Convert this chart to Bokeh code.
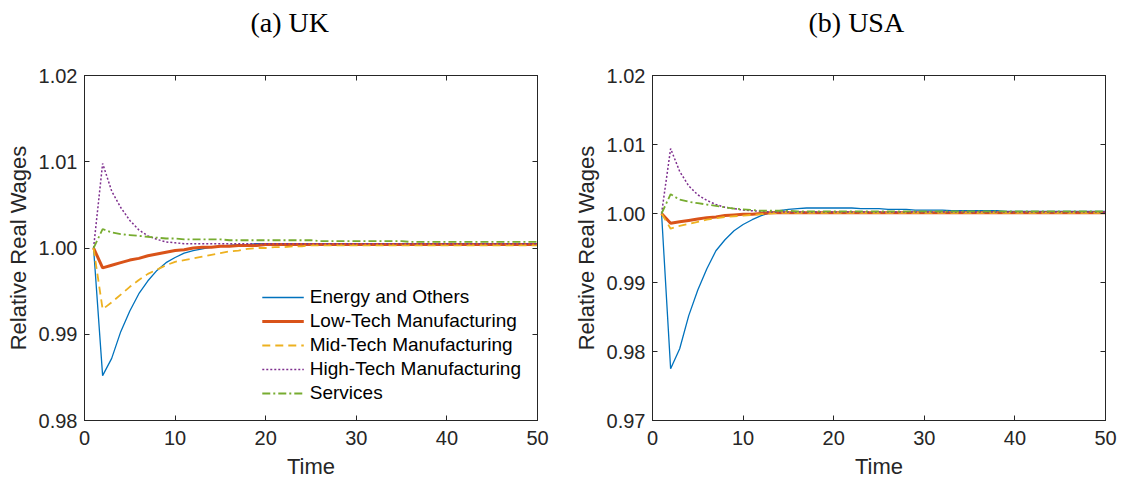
from bokeh.plotting import figure
from bokeh.models import Range1d, LinearAxis, Legend, LegendItem, Title, FixedTicker, PrintfTickFormatter
from bokeh.layouts import row
from bokeh.embed import file_html
from bokeh.resources import INLINE

time = list(range(1, 51))

# ---- UK ----
energy_uk = [1.0000, 0.9852, 0.9872, 0.9903, 0.9927, 0.9947, 0.9962, 0.9974, 0.9983, 0.9989,
             0.9994, 0.9997, 0.9999, 1.0001, 1.0002, 1.0003, 1.0004, 1.0004, 1.0005, 1.0005,
             1.0005, 1.0005, 1.0005, 1.0005, 1.0005, 1.0005, 1.0005, 1.0005, 1.0005, 1.0005,
             1.0005, 1.0005, 1.0005, 1.0005, 1.0005, 1.0005, 1.0005, 1.0005, 1.0005, 1.0005,
             1.0005, 1.0005, 1.0005, 1.0005, 1.0005, 1.0005, 1.0005, 1.0005, 1.0005, 1.0005]
lowtech_uk = [1.0000, 0.9977, 0.9980, 0.9983, 0.9986, 0.9988, 0.9991, 0.9993, 0.9995, 0.9997,
              0.9998, 1.0000, 1.0001, 1.0001, 1.0002, 1.0002, 1.0003, 1.0003, 1.0003, 1.0004,
              1.0004, 1.0004, 1.0004, 1.0004, 1.0004, 1.0004, 1.0004, 1.0004, 1.0004, 1.0004,
              1.0004, 1.0004, 1.0004, 1.0004, 1.0004, 1.0004, 1.0004, 1.0004, 1.0004, 1.0004,
              1.0004, 1.0004, 1.0004, 1.0004, 1.0004, 1.0004, 1.0004, 1.0004, 1.0004, 1.0004]
midtech_uk = [1.0000, 0.9929, 0.9937, 0.9946, 0.9955, 0.9963, 0.9970, 0.9975, 0.9980, 0.9984,
              0.9986, 0.9988, 0.9990, 0.9992, 0.9994, 0.9996, 0.9997, 0.9999, 1.0000, 1.0000,
              1.0001, 1.0001, 1.0002, 1.0002, 1.0003, 1.0003, 1.0003, 1.0003, 1.0003, 1.0003,
              1.0003, 1.0003, 1.0003, 1.0003, 1.0003, 1.0003, 1.0003, 1.0003, 1.0003, 1.0003,
              1.0003, 1.0003, 1.0003, 1.0003, 1.0003, 1.0003, 1.0003, 1.0003, 1.0003, 1.0003]
hightech_uk = [1.0000, 1.0098, 1.0066, 1.0047, 1.0032, 1.0021, 1.0014, 1.0010, 1.0007, 1.0006,
               1.0005, 1.0005, 1.0005, 1.0005, 1.0005, 1.0005, 1.0005, 1.0005, 1.0005, 1.0005,
               1.0005, 1.0005, 1.0005, 1.0005, 1.0005, 1.0005, 1.0005, 1.0005, 1.0005, 1.0005,
               1.0005, 1.0005, 1.0005, 1.0005, 1.0005, 1.0005, 1.0005, 1.0005, 1.0005, 1.0005,
               1.0005, 1.0005, 1.0005, 1.0005, 1.0005, 1.0005, 1.0005, 1.0005, 1.0005, 1.0005]
services_uk = [1.0000, 1.0022, 1.0018, 1.0016, 1.0015, 1.0014, 1.0013, 1.0012, 1.0011, 1.0011,
               1.0010, 1.0010, 1.0010, 1.0010, 1.0010, 1.0009, 1.0009, 1.0009, 1.0009, 1.0009,
               1.0009, 1.0009, 1.0009, 1.0009, 1.0009, 1.0008, 1.0008, 1.0008, 1.0008, 1.0008,
               1.0008, 1.0008, 1.0008, 1.0008, 1.0008, 1.0007, 1.0007, 1.0007, 1.0007, 1.0007,
               1.0007, 1.0007, 1.0007, 1.0007, 1.0007, 1.0007, 1.0007, 1.0007, 1.0007, 1.0007]

# ---- USA ----
energy_us = [1.0000, 0.9775, 0.9804, 0.9852, 0.9889, 0.9920, 0.9946, 0.9962, 0.9975, 0.9984,
             0.9991, 0.9997, 1.0001, 1.0004, 1.0006, 1.0007, 1.0008, 1.0008, 1.0008, 1.0008,
             1.0008, 1.0008, 1.0007, 1.0007, 1.0007, 1.0006, 1.0006, 1.0006, 1.0005, 1.0005,
             1.0005, 1.0005, 1.0004, 1.0004, 1.0004, 1.0004, 1.0004, 1.0004, 1.0003, 1.0003,
             1.0003, 1.0003, 1.0003, 1.0003, 1.0003, 1.0003, 1.0003, 1.0003, 1.0003, 1.0003]
lowtech_us = [1.0000, 0.9986, 0.9988, 0.9990, 0.9992, 0.9994, 0.9995, 0.9997, 0.9998, 0.9999,
              0.9999, 1.0000, 1.0001, 1.0001, 1.0001, 1.0001, 1.0001, 1.0001, 1.0001, 1.0001,
              1.0001, 1.0001, 1.0001, 1.0001, 1.0001, 1.0001, 1.0001, 1.0001, 1.0001, 1.0001,
              1.0001, 1.0001, 1.0001, 1.0001, 1.0001, 1.0001, 1.0001, 1.0001, 1.0001, 1.0001,
              1.0001, 1.0001, 1.0001, 1.0001, 1.0001, 1.0001, 1.0001, 1.0001, 1.0001, 1.0001]
midtech_us = [1.0000, 0.9978, 0.9982, 0.9985, 0.9988, 0.9991, 0.9993, 0.9995, 0.9996, 0.9997,
              0.9998, 0.9999, 1.0000, 1.0001, 1.0001, 1.0001, 1.0001, 1.0001, 1.0001, 1.0001,
              1.0001, 1.0001, 1.0001, 1.0001, 1.0001, 1.0001, 1.0001, 1.0001, 1.0001, 1.0001,
              1.0001, 1.0001, 1.0001, 1.0001, 1.0001, 1.0001, 1.0001, 1.0001, 1.0001, 1.0001,
              1.0001, 1.0001, 1.0001, 1.0001, 1.0001, 1.0001, 1.0001, 1.0001, 1.0001, 1.0001]
hightech_us = [1.0000, 1.0094, 1.0061, 1.0040, 1.0027, 1.0019, 1.0013, 1.0009, 1.0007, 1.0005,
               1.0004, 1.0003, 1.0002, 1.0002, 1.0002, 1.0002, 1.0002, 1.0002, 1.0002, 1.0002,
               1.0002, 1.0002, 1.0002, 1.0002, 1.0002, 1.0002, 1.0002, 1.0002, 1.0002, 1.0002,
               1.0002, 1.0002, 1.0002, 1.0002, 1.0002, 1.0002, 1.0002, 1.0002, 1.0002, 1.0002,
               1.0002, 1.0002, 1.0002, 1.0002, 1.0002, 1.0002, 1.0002, 1.0002, 1.0002, 1.0002]
services_us = [1.0000, 1.0028, 1.0020, 1.0017, 1.0015, 1.0013, 1.0011, 1.0009, 1.0007, 1.0006,
               1.0005, 1.0004, 1.0004, 1.0004, 1.0004, 1.0003, 1.0003, 1.0003, 1.0003, 1.0003,
               1.0003, 1.0003, 1.0003, 1.0003, 1.0003, 1.0003, 1.0003, 1.0003, 1.0003, 1.0003,
               1.0003, 1.0003, 1.0003, 1.0003, 1.0003, 1.0003, 1.0003, 1.0003, 1.0003, 1.0003,
               1.0003, 1.0003, 1.0003, 1.0003, 1.0003, 1.0003, 1.0003, 1.0003, 1.0003, 1.0003]

series_names = ["Energy and Others", "Low-Tech Manufacturing", "Mid-Tech Manufacturing",
                "High-Tech Manufacturing", "Services"]
x_ticks = [0, 10, 20, 30, 40, 50]
y_ticks_uk = [0.98, 0.99, 1.00, 1.01, 1.02]
y_ticks_us = [0.97, 0.98, 0.99, 1.00, 1.01, 1.02]

styles = [
    dict(line_color="#0072BD", line_width=1.3, line_dash="solid"),
    dict(line_color="#D95319", line_width=3.0, line_dash="solid"),
    dict(line_color="#EDB120", line_width=1.8, line_dash="8 5"),
    dict(line_color="#7E2F8E", line_width=1.5, line_dash="2 2"),
    dict(line_color="#77AC30", line_width=1.8, line_dash="8 3 2 3"),
]

FONT = "Liberation Sans"


def style_axis(ax):
    ax.major_tick_in = 5
    ax.major_tick_out = 0
    ax.minor_tick_in = 0
    ax.minor_tick_out = 0
    ax.axis_line_color = "#262626"
    ax.major_tick_line_color = "#262626"
    ax.major_label_text_font = FONT
    ax.major_label_text_font_size = "20px"
    ax.major_label_text_color = "#262626"
    ax.axis_label_text_font = FONT
    ax.axis_label_text_font_size = "22px"
    ax.axis_label_text_font_style = "normal"
    ax.axis_label_text_color = "#262626"


def make_panel(title, series, y_ticks, width, left, right, title_offset, legend=False):
    p = figure(width=width, height=489, output_backend="svg", toolbar_location=None,
               x_range=Range1d(0, 50), y_range=Range1d(y_ticks[0], y_ticks[-1]),
               min_border_left=left, min_border_right=right,
               min_border_top=75, min_border_bottom=69, title=None)
    p.xgrid.visible = False
    p.ygrid.visible = False
    p.outline_line_color = "#262626"
    p.outline_line_width = 1
    p.background_fill_color = "white"
    p.border_fill_color = "white"

    p.xaxis.ticker = FixedTicker(ticks=x_ticks)
    p.yaxis.ticker = FixedTicker(ticks=y_ticks)
    p.yaxis.formatter = PrintfTickFormatter(format="%.2f")
    for ax in p.axis:
        style_axis(ax)
    xa = p.below[0]
    ya = p.left[0]
    xa.axis_label = "Time"
    xa.major_label_standoff = 10
    xa.axis_label_standoff = 6
    ya.axis_label = "Relative Real Wages"
    ya.major_label_standoff = 7
    ya.axis_label_standoff = 5

    # box ticks on the right (no labels)
    rgt = LinearAxis(ticker=FixedTicker(ticks=y_ticks),
                     major_label_overrides={t: "" for t in y_ticks})
    style_axis(rgt)
    rgt.major_label_standoff = 0
    p.add_layout(rgt, "right")

    # box ticks on top: visible inward ticks drawn as minor ticks, invisible outward
    # major ticks reserve the space between the frame and the panel caption
    top = LinearAxis(ticker=FixedTicker(ticks=x_ticks, minor_ticks=x_ticks),
                     major_label_overrides={t: "" for t in x_ticks})
    style_axis(top)
    top.major_label_standoff = 0
    top.major_tick_in = 0
    top.major_tick_out = 36
    top.major_tick_line_alpha = 0
    top.minor_tick_in = 5
    top.minor_tick_out = 0
    top.minor_tick_line_color = "#262626"
    p.add_layout(top, "above")

    renderers = []
    for ys, st in zip(series, styles):
        r = p.line(time, ys, **st)
        renderers.append(r)

    if legend:
        items = [LegendItem(label=n, renderers=[r]) for n, r in zip(series_names, renderers)]
        lg = Legend(items=items, location="bottom_right",
                    label_text_font=FONT, label_text_font_size="19px",
                    label_text_color="#000000",
                    glyph_width=42, glyph_height=20, label_height=20,
                    label_standoff=6, spacing=2, padding=4, margin=12,
                    border_line_alpha=0, background_fill_alpha=0)
        p.add_layout(lg, "center")

    t = Title(text=title, align="left", offset=title_offset,
              text_font="Liberation Serif", text_font_size="28px",
              text_font_style="normal", text_color="#000000", standoff=4)
    p.add_layout(t, "above")
    return p


p1 = make_panel("(a) UK", [energy_uk, lowtech_uk, midtech_uk, hightech_uk, services_uk],
                y_ticks_uk, 565, 84, 28, 166, legend=True)
p2 = make_panel("(b) USA", [energy_us, lowtech_us, midtech_us, hightech_us, services_us],
                y_ticks_us, 556, 87, 16, 156)

layout = row(p1, p2)
open("out.html", "w").write(file_html(layout, INLINE))
